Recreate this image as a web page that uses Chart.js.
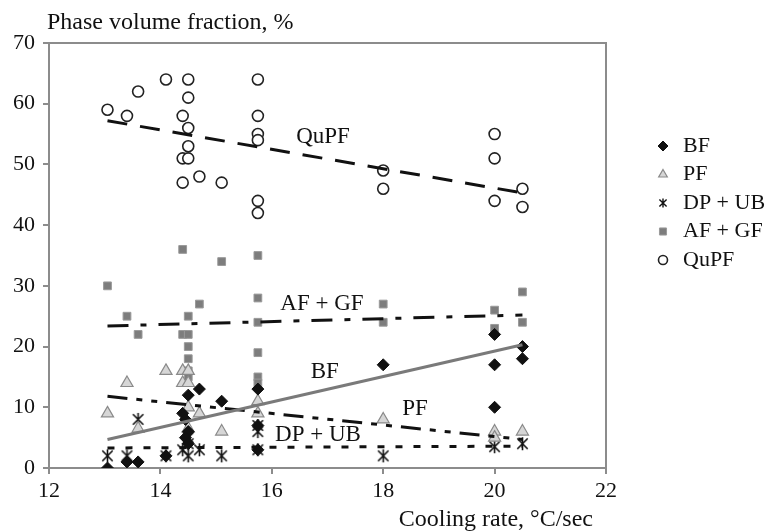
<!DOCTYPE html>
<html lang="en">
<head>
  <meta charset="UTF-8">
  <title>Phase volume fraction vs cooling rate</title>
  <style>
    html, body { margin: 0; padding: 0; background: #fff; }
    #wrap { width: 771px; height: 532px; position: relative; }
  </style>
</head>
<body>
  <div id="wrap"><canvas id="phaseChart"></canvas></div>

  <script src="https://cdn.jsdelivr.net/npm/chart.js"></script>
  <script>
    // data (cooling rate, °C/sec -> volume fraction, %)
    const bfRate = [13.05, 13.4, 13.6, 14.1, 14.5, 14.7, 14.4, 14.45, 14.5, 14.45, 14.5, 15.1, 15.75, 15.75, 15.75, 18, 20, 20, 20, 20.5, 20.5];
    const bfPct  = [0, 1, 1, 2, 12, 13, 9, 8, 6, 5, 4, 11, 13, 7, 3, 17, 22, 17, 10, 20, 18];

    const pfRate = [13.05, 13.4, 13.6, 14.1, 14.4, 14.5, 14.4, 14.5, 14.5, 14.7, 14.5, 15.1, 15.75, 15.75, 18, 20, 20, 20.5];
    const pfPct  = [9, 14, 6.5, 16, 16, 16, 14, 14, 10, 9, 6.5, 6, 11, 9, 8, 6, 5, 6];

    const dpRate = [13.05, 13.4, 13.6, 14.1, 14.4, 14.5, 14.7, 15.1, 14.5, 14.5, 15.75, 15.75, 15.75, 18, 20, 20.5];
    const dpPct  = [2, 2, 8, 2, 3, 2, 3, 2, 4, 5, 7, 6, 3, 2, 3.5, 4];

    const afRate = [13.05, 13.4, 13.6, 14.4, 14.5, 14.7, 14.4, 14.5, 14.5, 14.5, 14.5, 14.5, 15.1, 15.75, 15.75, 15.75, 15.75, 15.75, 15.75, 18, 18, 20, 20, 20.5, 20.5];
    const afPct  = [30, 25, 22, 36, 25, 27, 22, 22, 20, 18, 16, 15, 34, 35, 28, 24, 19, 15, 14, 27, 24, 26, 23, 29, 24];

    const quRate = [13.05, 13.4, 13.6, 14.1, 14.4, 14.5, 14.5, 14.5, 14.5, 14.4, 14.5, 14.7, 14.4, 15.1, 15.75, 15.75, 15.75, 15.75, 15.75, 15.75, 18, 18, 20, 20, 20, 20.5, 20.5];
    const quPct  = [59, 58, 62, 64, 58, 64, 61, 56, 53, 51, 51, 48, 47, 47, 64, 58, 55, 54, 44, 42, 49, 46, 55, 51, 44, 46, 43];

    // linear trend lines (end points)
    const trendRate = [13.05, 20.5];
    const bfTrend = [4.7, 20.3];
    const pfTrend = [11.8, 4.7];
    const dpTrend = [3.3, 3.6];
    const afTrend = [23.4, 25.2];
    const quTrend = [57.2, 45.3];

    const xTicks = [12, 14, 16, 18, 20, 22];
    const yTicks = [0, 10, 20, 30, 40, 50, 60, 70];

    // trend labels: [text, rate, pct]
    const trendLabels = [
      ["QuPF", 16.92, 54.5],
      ["AF + GF", 16.9, 27.1],
      ["BF", 16.95, 15.9],
      ["PF", 18.57, 9.8],
      ["DP + UB", 16.83, 5.4]
    ];

    const FONT = "'Liberation Serif', 'Times New Roman', serif";

    function pts(xs, ys) {
      return xs.map((x, i) => ({ x: x, y: ys[i] }));
    }

    // asterisk marker (X with a vertical bar)
    function makeAsterisk(r, lw) {
      const c = document.createElement('canvas');
      const s = Math.ceil(r * 2 + lw * 2);
      c.width = s; c.height = s;
      const g = c.getContext('2d');
      const m = s / 2;
      g.strokeStyle = '#111';
      g.lineWidth = lw;
      g.beginPath();
      g.moveTo(m - r * 0.8, m - r * 0.8); g.lineTo(m + r * 0.8, m + r * 0.8);
      g.moveTo(m + r * 0.8, m - r * 0.8); g.lineTo(m - r * 0.8, m + r * 0.8);
      g.moveTo(m, m - r); g.lineTo(m, m + r);
      g.stroke();
      return c;
    }
    const asterisk = makeAsterisk(6.5, 1.6);
    const asteriskSmall = makeAsterisk(4.5, 1.4);

    const scatterSets = [
      { label: 'BF', data: pts(bfRate, bfPct), pointStyle: 'rectRot', pointRadius: 6,
        backgroundColor: '#111', borderColor: '#111', borderWidth: 1, legendStyle: 'rectRot', legendRadius: 5 },
      { label: 'PF', data: pts(pfRate, pfPct), pointStyle: 'triangle', pointRadius: 7,
        backgroundColor: '#d6d6d6', borderColor: '#8a8a8a', borderWidth: 1.2, legendStyle: 'triangle', legendRadius: 5 },
      { label: 'DP + UB', data: pts(dpRate, dpPct), pointStyle: asterisk, pointRadius: 7,
        backgroundColor: '#111', borderColor: '#111', borderWidth: 1, legendStyle: asteriskSmall, legendRadius: 5 },
      { label: 'AF + GF', data: pts(afRate, afPct), pointStyle: 'rect', pointRadius: 5.5,
        backgroundColor: '#7d7d7d', borderColor: '#9a9a9a', borderWidth: 1, legendStyle: 'rect', legendRadius: 5 },
      { label: 'QuPF', data: pts(quRate, quPct), pointStyle: 'circle', pointRadius: 5.5,
        backgroundColor: '#fff', borderColor: '#222', borderWidth: 1.6, legendStyle: 'circle', legendRadius: 4.5 }
    ].map(d => Object.assign(d, { type: 'scatter', showLine: false, order: 2, pointHoverRadius: d.pointRadius }));

    const trendSets = [
      { label: 'bf-trend', data: pts(trendRate, bfTrend), borderColor: '#7a7a7a', borderDash: [] },
      { label: 'pf-trend', data: pts(trendRate, pfTrend), borderColor: '#111', borderDash: [20, 9, 6, 9, 6, 9] },
      { label: 'dp-trend', data: pts(trendRate, dpTrend), borderColor: '#111', borderDash: [7, 11] },
      { label: 'af-trend', data: pts(trendRate, afTrend), borderColor: '#111', borderDash: [21, 12, 6, 12] },
      { label: 'qu-trend', data: pts(trendRate, quTrend), borderColor: '#111', borderDash: [20, 13] }
    ].map(d => Object.assign(d, { type: 'line', borderWidth: 3, pointRadius: 0, fill: false, order: 1 }));

    // frame, axis titles, trend labels and legend
    const decorations = {
      id: 'decorations',
      beforeDatasetsDraw(chart) {
        const { ctx, chartArea: a } = chart;
        ctx.save();
        ctx.strokeStyle = '#8c8c8c';
        ctx.lineWidth = 2;
        ctx.beginPath();
        ctx.moveTo(a.left, a.top); ctx.lineTo(a.right, a.top); ctx.lineTo(a.right, a.bottom);
        ctx.stroke();
        ctx.restore();
      },
      afterDatasetsDraw(chart) {
        const { ctx, scales } = chart;
        ctx.save();
        ctx.fillStyle = '#111';
        ctx.font = '23px ' + FONT;
        ctx.textAlign = 'center';
        ctx.textBaseline = 'middle';
        trendLabels.forEach(([t, x, y]) => {
          ctx.fillText(t, scales.x.getPixelForValue(x), scales.y.getPixelForValue(y));
        });

        ctx.font = '24px ' + FONT;
        ctx.textAlign = 'left';
        ctx.fillText('Phase volume fraction, %', 47, 23);
        ctx.textAlign = 'right';
        ctx.fillText('Cooling rate, °C/sec', 593, 520);

        // legend
        ctx.font = '22px ' + FONT;
        const lx = 663, tx = 683;
        let ly = 146;
        scatterSets.forEach(d => {
          ctx.fillStyle = d.backgroundColor;
          ctx.strokeStyle = d.borderColor;
          ctx.lineWidth = d.borderWidth;
          Chart.helpers.drawPoint(ctx, { pointStyle: d.legendStyle, radius: d.legendRadius, borderWidth: d.borderWidth, rotation: 0 }, lx, ly);
          ctx.fillStyle = '#111';
          ctx.textAlign = 'left';
          ctx.fillText(d.label, tx, ly);
          ly += 28.5;
        });
        ctx.restore();
      }
    };

    const axisFont = { family: FONT, size: 22 };

    new Chart(document.getElementById('phaseChart'), {
      type: 'scatter',
      data: { datasets: [...scatterSets, ...trendSets] },
      options: {
        responsive: true,
        maintainAspectRatio: false,
        animation: false,
        layout: { padding: { top: 43, right: 165, left: 0, bottom: 0 } },
        plugins: { legend: { display: false }, tooltip: { enabled: false } },
        scales: {
          x: {
            type: 'linear', min: 12, max: 22,
            afterBuildTicks: s => { s.ticks = xTicks.map(v => ({ value: v })); },
            afterFit: s => { s.height = 64; },
            ticks: { font: axisFont, color: '#111', padding: 4, maxRotation: 0 },
            grid: { drawOnChartArea: false, drawTicks: true, tickLength: 6, color: '#8c8c8c', lineWidth: 2 },
            border: { color: '#8c8c8c', width: 2 }
          },
          y: {
            type: 'linear', min: 0, max: 70,
            afterBuildTicks: s => { s.ticks = yTicks.map(v => ({ value: v })); },
            afterFit: s => { s.width = 49; },
            ticks: { font: axisFont, color: '#111', padding: 8 },
            grid: { drawOnChartArea: false, drawTicks: true, tickLength: 6, color: '#8c8c8c', lineWidth: 2 },
            border: { color: '#8c8c8c', width: 2 }
          }
        }
      },
      plugins: [decorations]
    });
  </script>
</body>
</html>
